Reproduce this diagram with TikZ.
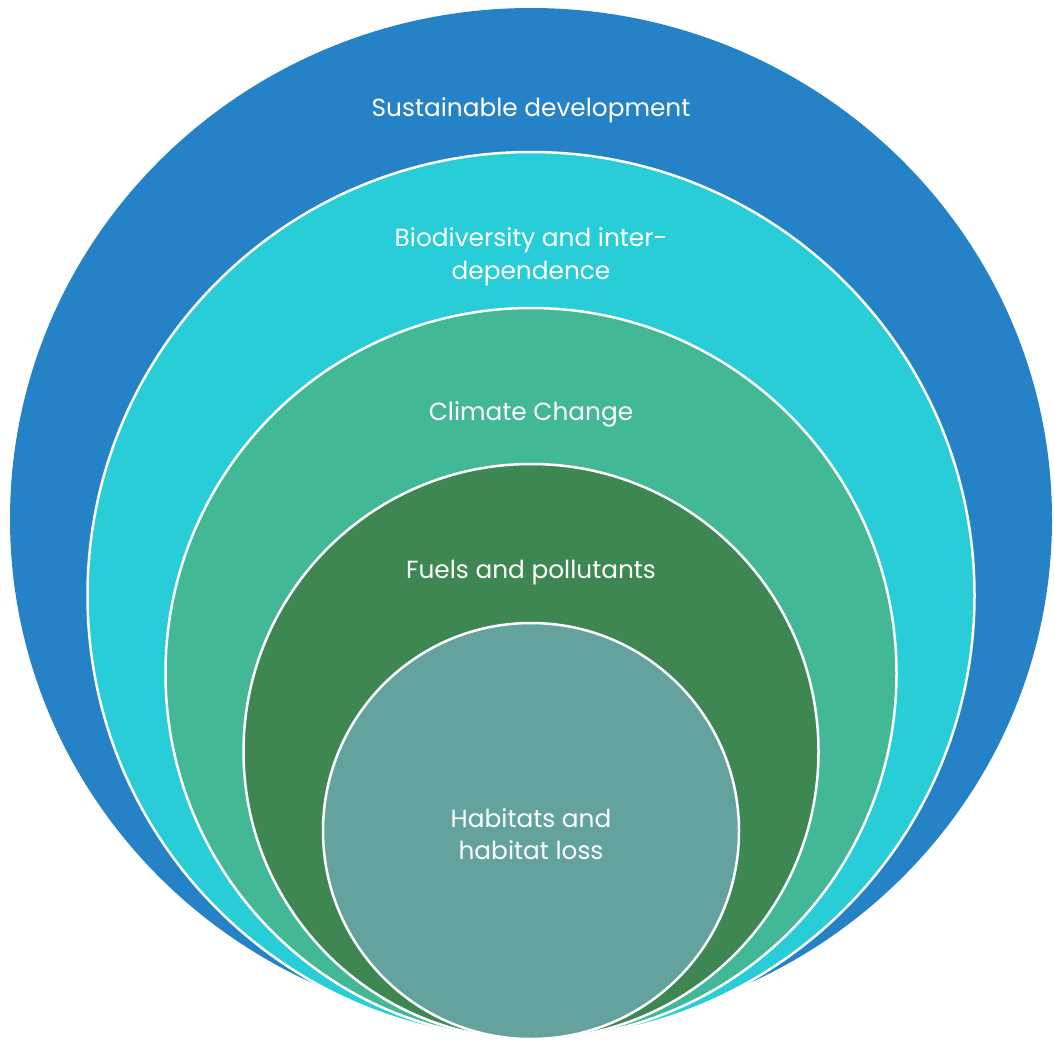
\documentclass[tikz,border=0pt]{standalone}
\usepackage{fontspec}
\setmainfont{Poppins}
\begin{document}
\begin{tikzpicture}[x=1pt,y=-1pt,
  ring/.style={draw=white,line width=2.5pt},
  lbl/.style={text=white,font=\fontsize{24.8}{32.5}\selectfont,align=center,inner sep=0pt}]
\definecolor{cblue}{RGB}{38,130,198}
\definecolor{ccyan}{RGB}{41,205,215}
\definecolor{cgreen}{RGB}{67,184,150}
\definecolor{cdark}{RGB}{62,135,83}
\definecolor{cteal}{RGB}{100,162,158}
\useasboundingbox (0,0) rectangle (1054,1041);
\fill[cblue] (531,519) ellipse [x radius=521, y radius=511];
\fill[ccyan,ring] (531,595.5) circle [radius=443.5];
\fill[cgreen,ring] (531,673.5) circle [radius=365.5];
\fill[cdark,ring] (531,751.5) circle [radius=287.5];
\fill[cteal,ring] (531,831) circle [radius=208];
\node[lbl] (sd) at (531,110) {Sustainable development};
\node[lbl] (bio) at (531,257) {Biodiversity and inter-\\dependence};
\node[lbl] (cc) at (531,414) {Climate Change};
\node[lbl] (fp) at (531,573) {Fuels and pollutants};
\node[lbl] (hab) at (531,834) {Habitats and\\habitat loss};
\end{tikzpicture}
\end{document}
